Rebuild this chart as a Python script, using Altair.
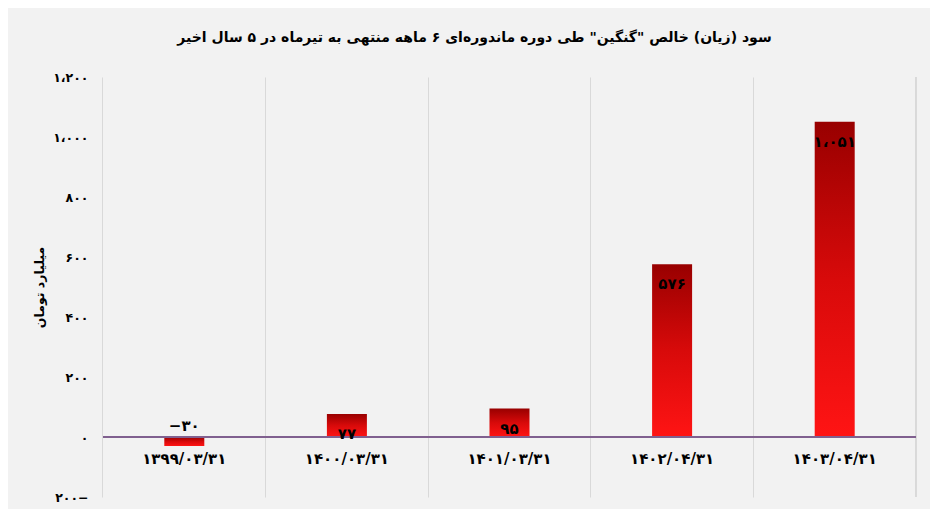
import altair as alt
import pandas as pd

# ---- data ----
categories = ["۱۳۹۹/۰۳/۳۱", "۱۴۰۰/۰۳/۳۱", "۱۴۰۱/۰۳/۳۱", "۱۴۰۲/۰۴/۳۱", "۱۴۰۳/۰۴/۳۱"]
values = [-30, 77, 95, 576, 1051]
value_labels = ["−۳۰", "۷۷", "۹۵", "۵۷۶", "۱،۰۵۱"]
y_ticks = [-200, 0, 200, 400, 600, 800, 1000, 1200]
y_tick_labels = ["۲۰۰−", "۰", "۲۰۰", "۴۰۰", "۶۰۰", "۸۰۰", "۱،۰۰۰", "۱،۲۰۰"]
title_text = "سود (زیان) خالص \"گنگین\" طی دوره ماندوره‌ای ۶ ماهه منتهی به تیرماه در ۵ سال اخیر"
y_title = "میلیارد تومان"

df = pd.DataFrame({"cat": categories, "value": values, "label": value_labels})

FONT = "DejaVu Sans"
W, H = 813, 420
P_IN = 0.754
P_OUT = P_IN / 2
BAND_POS = -(P_IN / 2) / (1 - P_IN)

# label expression for persian tick labels
expr = "''"
for v, l in zip(y_ticks, y_tick_labels):
    expr = f"datum.value == {v} ? '{l}' : ({expr})"

x_enc = alt.X(
    "cat:N",
    sort=categories,
    scale=alt.Scale(paddingInner=P_IN, paddingOuter=P_OUT),
    axis=alt.Axis(
        title=None, labels=False, ticks=False, domain=False, grid=True,
        bandPosition=BAND_POS, gridColor="#d9d9d9", gridWidth=1,
    ),
)
y_scale = alt.Scale(domain=[-200, 1200], nice=False, zero=False)
y_enc = alt.Y(
    "value:Q",
    scale=y_scale,
    axis=alt.Axis(
        title=y_title, values=y_ticks, labelExpr=expr, grid=False, ticks=False,
        domain=False, labelPadding=15, labelFont=FONT, labelFontWeight="bold",
        labelFontSize=12.5, labelColor="#000000", titleFont=FONT, titleFontWeight="bold",
        titleFontSize=12.5, titleColor="#000000", titleX=-57,
    ),
)

base = alt.Chart(df)

grad = alt.Gradient(
    gradient="linear",
    stops=[alt.GradientStop(color="#980000", offset=0),
           alt.GradientStop(color="#d80a0a", offset=0.5),
           alt.GradientStop(color="#ff1414", offset=1)],
    x1=0, x2=0, y1=0, y2=1,
)

bars = base.mark_bar(color=grad).encode(x=x_enc, y=y_enc, y2=alt.datum(0))

right_edge = base.mark_rule(color="#d9d9d9", strokeWidth=1).encode(
    x=alt.value(W), y=alt.value(0), y2=alt.value(H)
)

zero_line = base.mark_rule(color="#80608f", strokeWidth=1.5).encode(
    y=alt.datum(0)
)

pos_labels = base.transform_filter("datum.value >= 0").mark_text(
    font=FONT, fontWeight="bold", fontSize=15, color="#000000", dy=20, baseline="middle"
).encode(x=alt.X("cat:N", sort=categories), y=alt.Y("value:Q"), text="label:N")

neg_labels = base.transform_filter("datum.value < 0").mark_text(
    font=FONT, fontWeight="bold", fontSize=15, color="#000000", dy=-11, baseline="middle"
).encode(x=alt.X("cat:N", sort=categories), y=alt.datum(0), text="label:N")

cat_labels = base.mark_text(
    font=FONT, fontWeight="bold", fontSize=15, color="#000000", dy=22, baseline="middle"
).encode(x=alt.X("cat:N", sort=categories), y=alt.datum(0), text="cat:N")

chart = alt.layer(
    right_edge, bars, zero_line, pos_labels, neg_labels, cat_labels
).properties(
    width=W, height=H,
    title=alt.TitleParams(
        text=title_text, font=FONT, fontSize=14, fontWeight="bold", color="#000000",
        anchor="middle", dx=-35, offset=26,
    ),
    autosize=alt.AutoSizeParams(type="none"),
    padding={"left": 95, "top": 69, "right": 14, "bottom": 12},
).configure(
    background="#f2f2f2",
).configure_view(stroke=None)

chart.save("out.html", embed_options={"renderer": "svg", "actions": False})
